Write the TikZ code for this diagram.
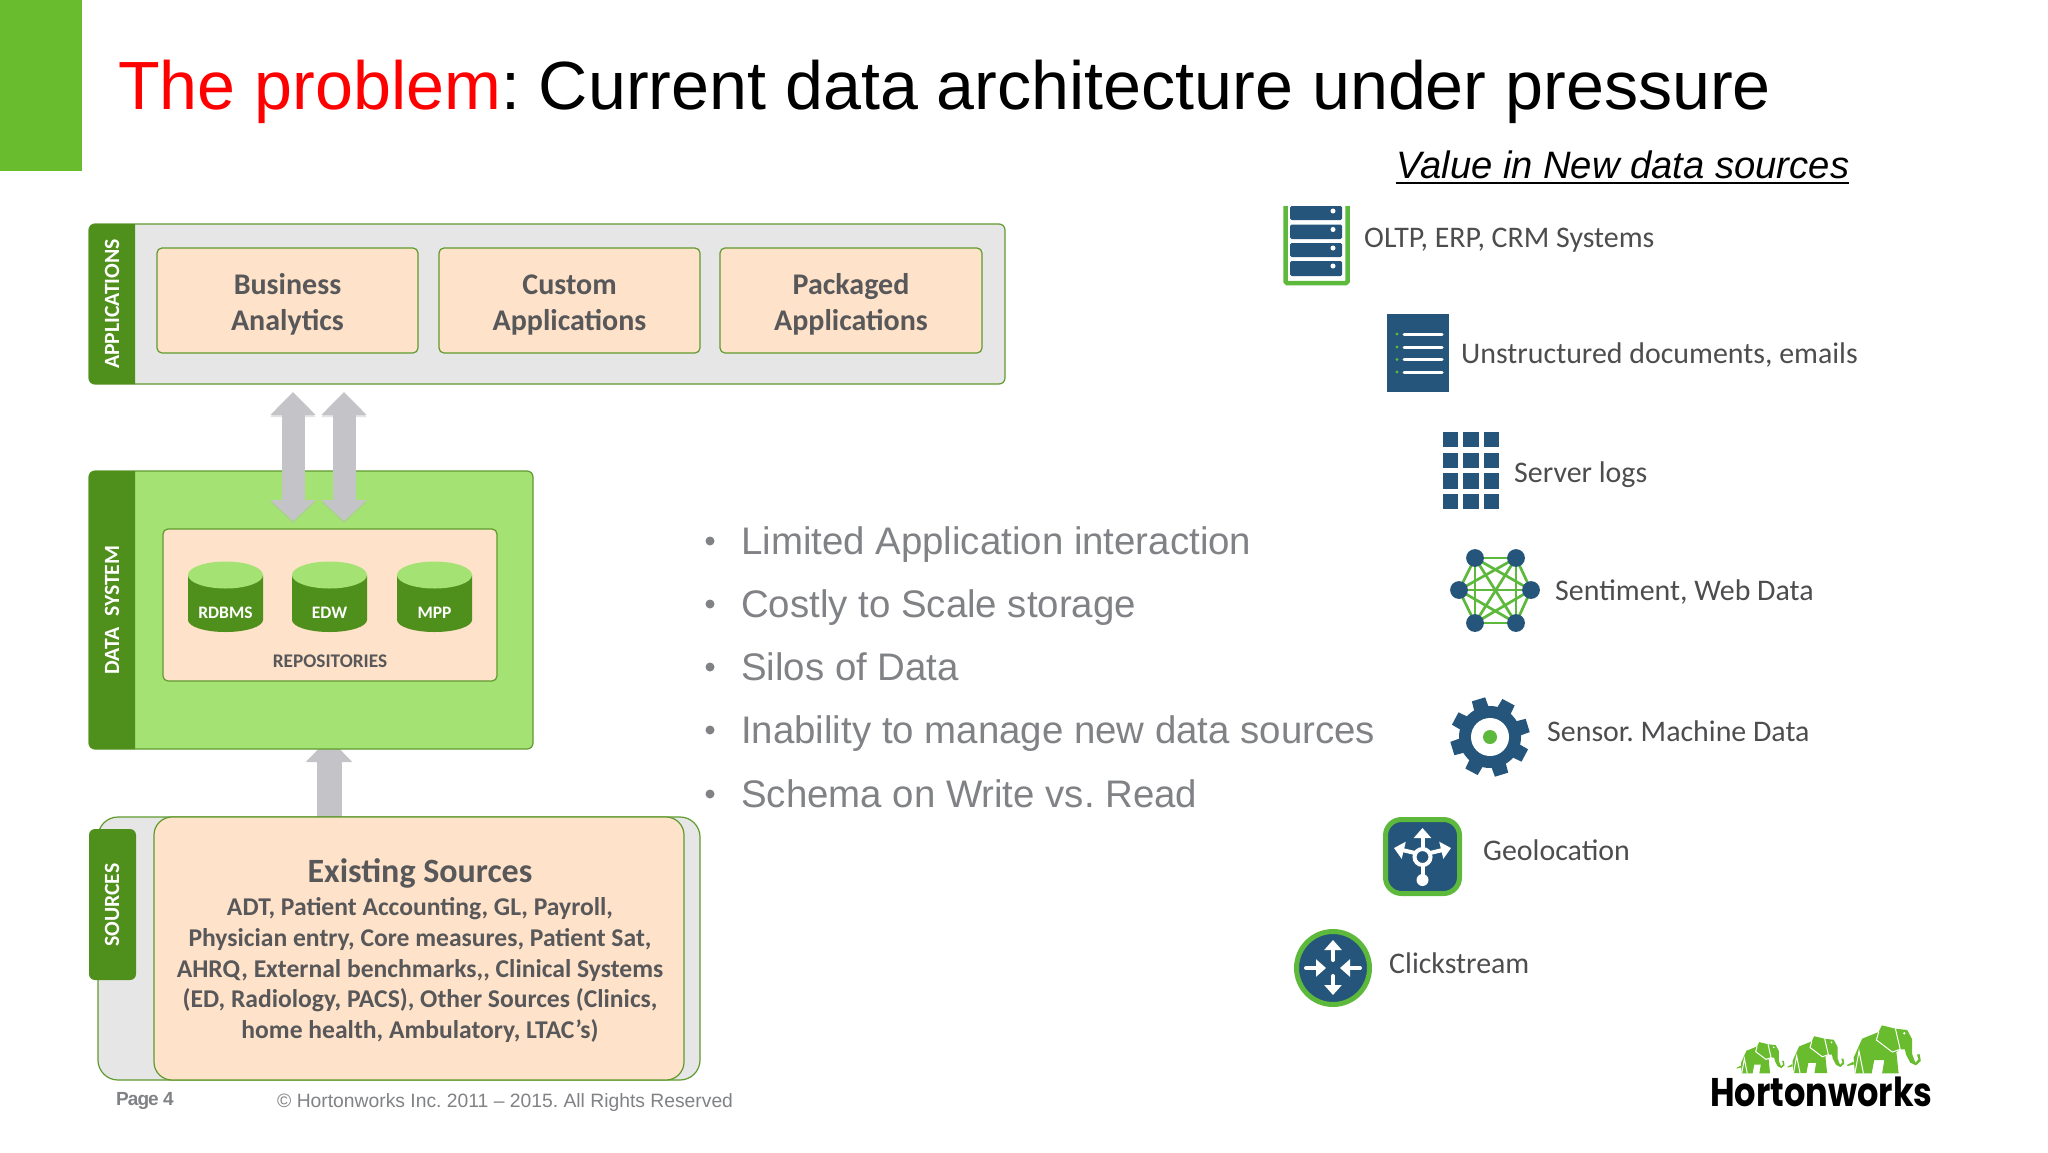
\documentclass[tikz,border=0pt]{standalone}
\usepackage{fontspec}
\usetikzlibrary{arrows.meta,calc}
\setmainfont{Liberation Sans}
\newfontfamily\fcal{Carlito}
\newfontfamily\flogo{Poppins}
\frenchspacing
\newcommand{\fsz}[1]{\fontsize{#1}{#1}\selectfont}
\definecolor{hdrgreen}{HTML}{4F8F1C}
\definecolor{bord}{HTML}{5F9A2E}
\definecolor{lgreen}{HTML}{A4E274}
\definecolor{peach}{HTML}{FEE2C9}
\definecolor{panel}{HTML}{E6E6E6}
\definecolor{txt}{HTML}{58585A}
\definecolor{txtb}{HTML}{4D4D4F}
\definecolor{bul}{HTML}{808285}
\definecolor{hwgreen}{HTML}{68BC2E}
\definecolor{iconblue}{HTML}{25557A}
\definecolor{iconlime}{HTML}{5DB93B}
\definecolor{arrgray}{HTML}{C4C4C8}
\tikzset{
  bx/.style={draw=bord,line width=1.2pt,inner sep=0pt,outer sep=0pt,align=center},
  vlabel/.style={rotate=90,text=white,font=\fcal\bfseries\fsz{21.7}},
  appbox/.style={bx,fill=peach,rounded corners=5pt,text=txt,font=\fcal\bfseries\fsz{30}},
  bulltext/.style={anchor=base west,text=bul,font=\fsz{38.4}},
  srctext/.style={anchor=base west,text=txtb,font=\fcal\fsz{29.9}},
  dbl/.style={line width=23pt,arrgray,{Triangle[length=23pt,width=44pt]}-{Triangle[length=21pt,width=44pt]}},
  sgl/.style={line width=25pt,arrgray,{Triangle[length=24pt,width=45pt]}-},
  wline/.style={draw=white,line width=4pt,line cap=round},
  whead/.style={wline,-{Triangle[length=10pt,width=17pt]}},
}
% box from corners
\newcommand{\cornerbox}[7][]{%
  \node[#2,#1,minimum width={(#6-#4)*1pt},minimum height={(#7-#5)*1pt}] (#3) at ({(#4+#6)/2},{(#5+#7)/2})}
% cylinder: left right
\newcommand{\dbcyl}[4]{%
  \fill[hdrgreen] (#1,575) -- (#2,575) -- (#2,620) arc[start angle=0,end angle=180,x radius={(#2-#1)/2},y radius=12] -- cycle;
  \fill[lgreen] ({(#1+#2)/2},575) ellipse[x radius={(#2-#1)/2},y radius=13.5];
  \node[text=white,font=\fcal\bfseries\fsz{17.5}] (#3) at ({(#1+#2)/2},612.5) {#4};}
\newcommand{\elephant}[3]{%
  \begin{scope}[shift={(#1,#2)},xscale=#3*0.95/3,yscale=#3/3]
    \fill[hwgreen] (43,125) -- (70,68) -- (122,48) -- (132,28) -- (175,38) -- (212,42) -- (228,70) -- (228,115) -- (238,140) -- (248,130) -- (243,115) -- (252,115) -- (255,135) -- (240,148) -- (222,140) -- (208,115) -- (205,100) -- (190,100) -- (178,108) -- (185,172) -- (133,172) -- (140,132) -- (108,132) -- (100,172) -- (47,172) -- cycle;
    \fill[hwgreen] (22,147) -- (42,137) -- (44,145) -- (24,150) -- cycle;
    \draw[white,line width=1pt] (122,48) -- (115,72) -- (165,108) -- (190,100) -- (175,38);
    \draw[white,line width=1pt] (47,172) -- (60,105) -- (74,172);
    \fill[white] (203,52) circle (4);
  \end{scope}}
\begin{document}
\begin{tikzpicture}[x=1pt,y=-1pt]
\useasboundingbox (0,0) rectangle (2048,1152);
\fill[white] (0,0) rectangle (2048,1152);
% corner + title
\fill[hwgreen] (0,0) rectangle (82,171);
\node[anchor=base west,inner sep=0pt,font=\fsz{68.2}] (title) at (118,109) {\textcolor{red}{The problem}: Current data architecture under pressure};
\node[anchor=base west,inner sep=0pt,font=\itshape\fsz{38.2}] (sub) at (1396,178) {Value in New data sources};
\draw[line width=1.6pt] ([yshift=-5pt]sub.base west) -- ([yshift=-5pt]sub.base east);

% applications
\cornerbox{bx,fill=panel,rounded corners=6pt}{apps}{89}{224}{1005}{384} {};
\fill[hdrgreen] (135,224) [rounded corners=6pt] -- (89,224) -- (89,384) [sharp corners] -- (135,384) -- cycle;
\node[vlabel] (applab) at (112,304) {APPLICATIONS};
\cornerbox{appbox}{ba}{157}{248}{418}{353} {\rule{0pt}{29pt}Business\\[6pt]Analytics};
\cornerbox{appbox}{ca}{439}{248}{700}{353} {\rule{0pt}{29pt}Custom\\[6pt]Applications};
\cornerbox{appbox}{pa}{720}{248}{982}{353} {\rule{0pt}{29pt}Packaged\\[6pt]Applications};

% source arrow (under the data box)
\coordinate (s1t) at (329,738);
\coordinate (s1b) at (329,818);
\draw[sgl] (s1t) -- (s1b);

% data system
\cornerbox{bx,fill=lgreen,rounded corners=6pt}{data}{89}{471}{533}{749} {};
\fill[hdrgreen] (135,471) [rounded corners=6pt] -- (89,471) -- (89,749) [sharp corners] -- (135,749) -- cycle;
\node[vlabel] (datalab) at (112,610) {DATA\,\,\,SYSTEM};

% double arrows
\coordinate (a1t) at (293,392);
\coordinate (a1b) at (293,521);
\coordinate (a2t) at (344,392);
\coordinate (a2b) at (344,521);
\draw[dbl,black!30,opacity=.35] ([yshift=-2pt]a1t) -- ([yshift=-2pt]a1b);
\draw[dbl,black!30,opacity=.35] ([yshift=-2pt]a2t) -- ([yshift=-2pt]a2b);
\draw[dbl] (a1t) -- (a1b);
\draw[dbl] (a2t) -- (a2b);

% repositories
\cornerbox{appbox}{repo}{163}{529}{497}{681} {};
\dbcyl{188}{263}{rdbms}{RDBMS}
\dbcyl{292}{367}{edw}{EDW}
\dbcyl{397}{472}{mpp}{MPP}
\node[text=txt,font=\fcal\bfseries\fsz{19.3}] (repolab) at (330,661) {REPOSITORIES};

% sources
\cornerbox{bx,fill=panel,rounded corners=20pt}{srcouter}{98}{817}{700}{1080} {};
\cornerbox{bx,fill=peach,rounded corners=18pt}{srcinner}{154}{817}{684}{1080} {};
\cornerbox{fill=hdrgreen,rounded corners=6pt}{srchdr}{89}{829}{136}{980} {};
\node[vlabel] (srclab) at (112,905) {SOURCES};
\node[text=txt,font=\fcal\bfseries\fsz{34}] (exist) at (420,873) {Existing Sources};
\node[anchor=center,text=txt,align=center,font=\fcal\bfseries\fontsize{25.6}{30.7}\selectfont] (existbody) at (420,970) {ADT, Patient Accounting, GL, Payroll,\\Physician entry, Core measures, Patient Sat,\\AHRQ, External benchmarks,, Clinical Systems\\(ED, Radiology, PACS), Other Sources (Clinics,\\home health, Ambulatory, LTAC’s)};

% footer
\node[anchor=base west,inner sep=0pt,text=bul,font=\bfseries\fsz{19}\addfontfeature{LetterSpace=-5}] (page) at (116,1105) {Page 4};
\node[anchor=base west,inner sep=0pt,text=bul,font=\fsz{19.3}] (copy) at (277,1107) {© Hortonworks Inc. 2011 – 2015. All Rights Reserved};

% bullets
\foreach \yy/\tt in {554/Limited Application interaction,617/Costly to Scale storage,680/Silos of Data,743/Inability to manage new data sources,807/Schema on Write vs. Read}{
  \fill[bul] (710,\yy-13) circle (4.5);
  \node[bulltext,inner sep=0pt] at (741,\yy) {\tt};
}

% right labels
\node[srctext,inner sep=0pt] (t1) at (1364,247) {OLTP, ERP, CRM Systems};
\node[srctext,inner sep=0pt] (t2) at (1461,363) {Unstructured documents, emails};
\node[srctext,inner sep=0pt] (t3) at (1514,482) {Server logs};
\node[srctext,inner sep=0pt] (t4) at (1555,600) {Sentiment, Web Data};
\node[srctext,inner sep=0pt] (t5) at (1547,741) {Sensor. Machine Data};
\node[srctext,inner sep=0pt] (t6) at (1483,860) {Geolocation};
\node[srctext,inner sep=0pt] (t7) at (1389,973) {Clickstream};

% server icon
\draw[iconlime,line width=4.5pt,rounded corners=1.5pt] (1285.5,206) -- (1285.5,283) -- (1347.5,283) -- (1347.5,206);
\foreach \yt/\yb in {206/220,224.5/239,243/257,261/276}{
  \fill[iconblue,rounded corners=1.5pt] (1290,\yt) rectangle (1342,\yb);
  \fill[white] (1333,\yt+5) circle (2.5);
}
% document icon
\fill[iconblue] (1387,314) rectangle (1449,392);
\foreach \yy in {334,347,359.5,372}{
  \draw[white,line width=3pt,line cap=round] (1404,\yy) -- (1442,\yy);
  \fill[iconlime] (1397,\yy) circle (1.6);
}
% grid icon
\foreach \xa/\xb in {1443/1458,1463/1479,1484/1499}{
  \foreach \ya/\yb in {432/447,453/468,473/489,494/509}{
    \fill[iconblue] (\xa,\ya) rectangle (\xb,\yb);
  }
}
% network icon
\coordinate (n1) at (1475,558);
\coordinate (n2) at (1516,558);
\coordinate (n3) at (1531,590);
\coordinate (n4) at (1516,623);
\coordinate (n5) at (1475,623);
\coordinate (n6) at (1459,590);
\foreach \aa/\bb in {n1/n2,n1/n3,n1/n4,n1/n5,n1/n6,n2/n3,n2/n4,n2/n5,n2/n6,n3/n4,n3/n5,n3/n6,n4/n5,n4/n6,n5/n6}{
  \draw[iconlime,line width=2.7pt] (\aa) -- (\bb);
}
\foreach \nn in {n1,n2,n3,n4,n5,n6}{ \fill[iconblue] (\nn) circle (8.9); }
% gear icon
\begin{scope}[shift={(1490,737)}]
  \fill[iconblue] (0,0) circle (31);
  \foreach \a in {-17,-62,-107,-152,-197,-242,-287,-332}{
    \fill[iconblue] (\a-15:29) -- (\a-10:40) -- (\a+10:40) -- (\a+15:29) -- cycle;
  }
  \fill[white] (0,0) circle (19);
  \fill[iconlime] (0,0) circle (7);
\end{scope}
% geolocation icon
\draw[draw=iconlime,fill=iconblue,line width=5pt,rounded corners=16pt] (1385.5,819.5) rectangle (1459.5,893.5);
\coordinate (g0) at (1422.5,857);
\draw[wline] (g0) circle (8);
\fill[white] (1422.5,880) circle (6);
\draw[wline] (1422.5,865) -- (1422.5,880);
\draw[whead] (1422.5,849) -- (1422.5,828);
\draw[whead] (1415,853) -- (1394,848);
\draw[whead] (1430,853) -- (1451,848);
% clickstream icon
\draw[draw=iconlime,fill=iconblue,line width=5pt] (1333,968) circle (36.5);
\draw[whead] (1333,960) -- (1333,940);
\draw[whead] (1333,976) -- (1333,995);
\draw[whead] (1306,968) -- (1326,968);
\draw[whead] (1360,968) -- (1340,968);

% logo
\elephant{1732}{1036}{0.65}
\elephant{1782}{1029}{0.77}
\elephant{1840}{1016}{1}
\node[anchor=base west,inner sep=0pt,xscale=.84,font=\flogo\bfseries\fsz{40}] (hw) at (1710,1106) {Hortonworks};
\end{tikzpicture}
\end{document}
